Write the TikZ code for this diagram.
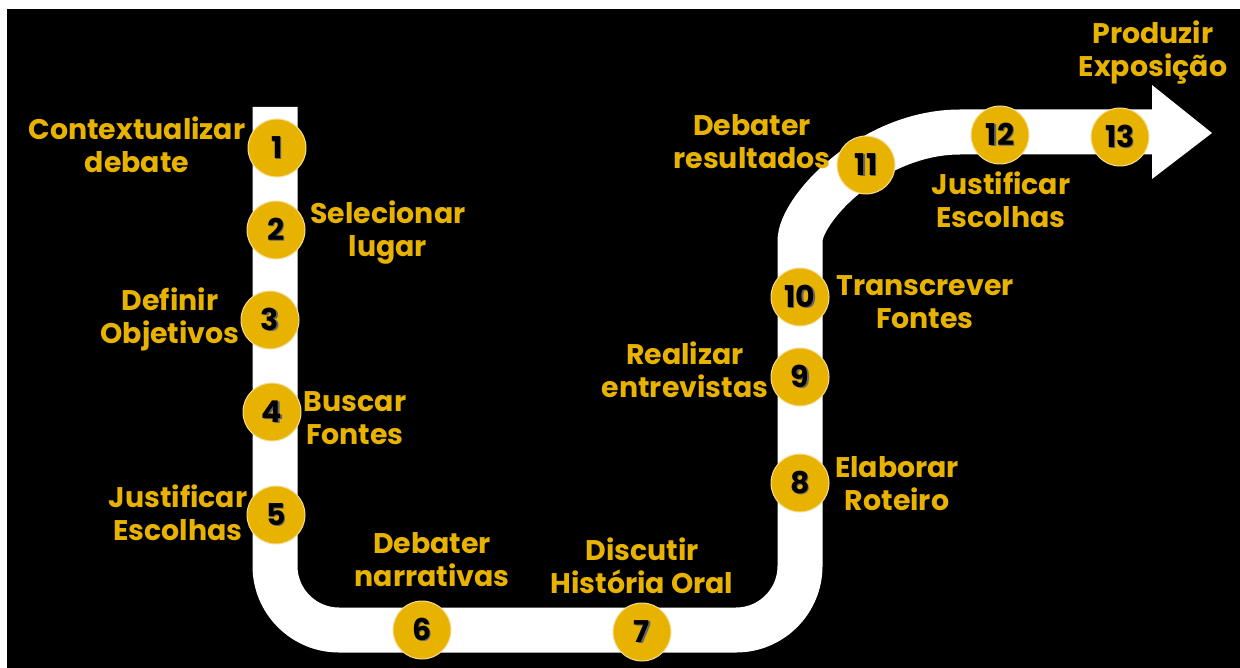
\documentclass[tikz,border=0pt]{standalone}
\usepackage{fontspec}
\setmainfont{Poppins}
\definecolor{ouro}{RGB}{232,178,0}
\definecolor{ourobord}{RGB}{246,222,150}
\newcommand\sombra[1]{\makebox[0pt][l]{\kern0.7pt\raisebox{-0.7pt}{\textcolor{black!60}{#1}}}#1}
\tikzset{
  passo/.style={circle,fill=ouro,draw=ourobord,line width=0.5pt,minimum size=29pt,
    inner sep=0pt,text=black,font=\bfseries\fontsize{15}{15}\selectfont},
  rotulo/.style={align=center,text=ouro,font=\bfseries\fontsize{14.2}{16.5}\selectfont},
  faixa/.style={draw=white,line width=22.5pt}
}
\begin{document}
\begin{tikzpicture}[x=0.5pt,y=-0.5pt]
   \useasboundingbox (0,0) rectangle (1240,668);
   \fill[white] (0,0) rectangle (1240,668);
   \fill[black] (7,9) rectangle (1240,668);
   % caminho
   \draw[faixa] (275,107) [rounded corners=32pt] -- (275,630) -- (800,630) -- (800,305)
      [sharp corners] arc[start angle=180,end angle=270,x radius=160,y radius=173] -- (1153,132);
   \fill[white] (1152,85) -- (1212,133) -- (1152,179) -- cycle;
   % etapas
   \node[passo] (s1) at (277,148) {\sombra{1}};
   \node[passo] (s2) at (276,230) {\sombra{2}};
   \node[passo] (s3) at (270,320) {\sombra{3}};
   \node[passo] (s4) at (272,412) {\sombra{4}};
   \node[passo] (s5) at (276,515) {\sombra{5}};
   \node[passo] (s6) at (422,630) {\sombra{6}};
   \node[passo] (s7) at (642,632) {\sombra{7}};
   \node[passo] (s8) at (800,483) {\sombra{8}};
   \node[passo] (s9) at (800,377) {\sombra{9}};
   \node[passo] (s10) at (800,297) {\sombra{10}};
   \node[passo] (s11) at (866,165) {\sombra{11}};
   \node[passo] (s12) at (1000,135) {\sombra{12}};
   \node[passo] (s13) at (1120,137) {\sombra{13}};
   % rotulos
   \node[rotulo] (l1) at (137,145) {Contextualizar\\debate};
   \node[rotulo] (l2) at (388,233) {Selecionar\\lugar};
   \node[rotulo] (l3) at (170,319) {Definir\\Objetivos};
   \node[rotulo] (l4) at (355,418) {Buscar\\Fontes};
   \node[rotulo] (l5) at (178,513) {Justificar\\Escolhas};
   \node[rotulo] (l6) at (432,560) {Debater\\narrativas};
   \node[rotulo] (l7) at (642,566) {Discutir\\História Oral};
   \node[rotulo] (l8) at (897,484) {Elaborar\\Roteiro};
   \node[rotulo] (l9) at (685,370) {Realizar\\entrevistas};
   \node[rotulo] (l10) at (925,302) {Transcrever\\Fontes};
   \node[rotulo] (l11) at (752,142) {Debater\\resultados};
   \node[rotulo] (l12) at (1001,200) {Justificar\\Escolhas};
   \node[rotulo] (l13) at (1153,52) {Produzir\\Exposição};
\end{tikzpicture}
\end{document}
